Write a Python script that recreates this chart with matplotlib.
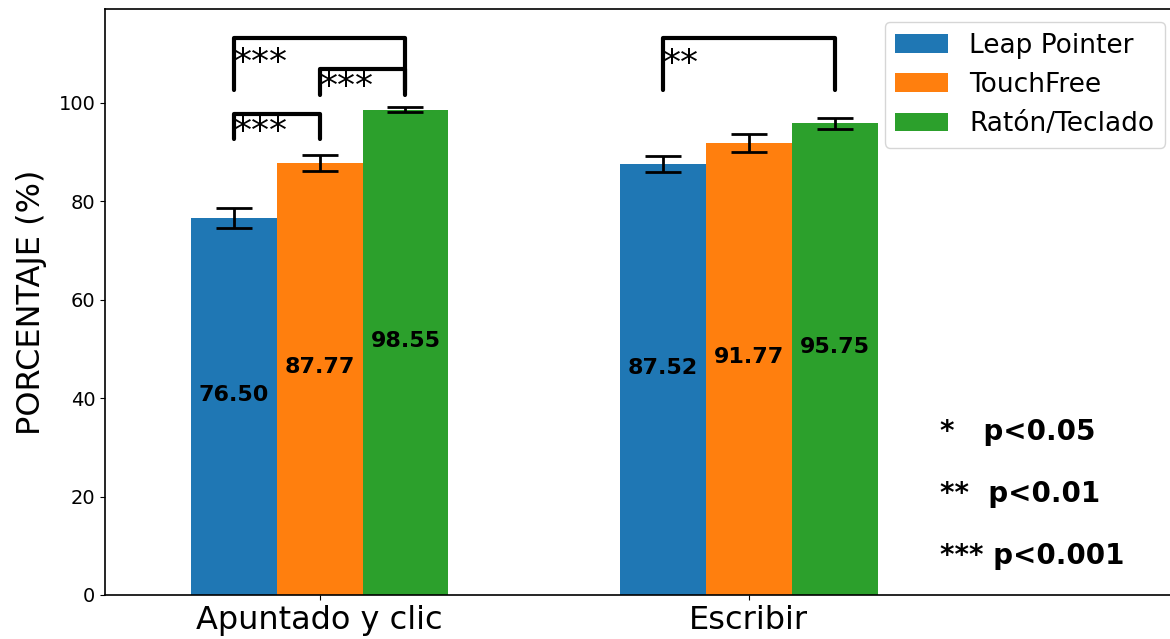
import matplotlib.pyplot as plt
import numpy as np

# ====== data ======
tasks = ["Apuntado y clic", "Escribir"]
devices = ["Leap Pointer", "TouchFree", "Ratón/Teclado"]
leap_vals = [76.50, 87.52]
touch_vals = [87.77, 91.77]
mouse_vals = [98.55, 95.75]
leap_err = [2.0, 1.7]
touch_err = [1.6, 1.8]
mouse_err = [0.5, 1.2]
colors = ["#1f77b4", "#ff7f0e", "#2ca02c"]

# significance brackets: (task index, bar a, bar b, low y, top y, label y, label)
brackets = [
    (0, 0, 1, 92.5, 97.6, 97.4, "***"),
    (0, 1, 2, 101.6, 106.9, 106.7, "***"),
    (0, 0, 2, 102.6, 113.2, 111.4, "***"),
    (1, 0, 2, 102.6, 113.2, 111.2, "**"),
]
legend_notes = ["*   p<0.05", "**  p<0.01", "*** p<0.001"]

# ====== plot ======
fig = plt.figure(figsize=(11.7, 6.39), dpi=100)
ax = fig.add_axes([105 / 1170, 44 / 639, 1073 / 1170, 586 / 639])

x = np.arange(len(tasks))
width = 0.2
series = [leap_vals, touch_vals, mouse_vals]
errors = [leap_err, touch_err, mouse_err]
offsets = [-width, 0, width]

for vals, errs, off, col, name in zip(series, errors, offsets, colors, devices):
    ax.bar(x + off, vals, width, color=col, label=name,
           yerr=errs, capsize=13,
           error_kw=dict(elinewidth=2, capthick=2, ecolor="black"))
    for xi, v in zip(x + off, vals):
        ax.text(xi, v / 2 + 2.4, f"{v:.2f}", ha="center", va="center",
                fontsize=16, fontweight="bold")

for task, a, b, low, top, ty, lab in brackets:
    xa = x[task] + offsets[a]
    xb = x[task] + offsets[b]
    ax.plot([xa, xa, xb, xb], [low, top, top, low], color="black", lw=3,
            solid_capstyle="round", solid_joinstyle="round")
    ax.text(xa, ty, lab, ha="left", va="top", fontsize=26)

for i, note in enumerate(legend_notes):
    ax.text(1.445, 33.1 - i * 12.6, note, ha="left", va="center",
            fontsize=20, fontweight="bold")

ax.set_xlim(-0.5, 2.0)
ax.set_ylim(0, 119)
ax.set_xticks(x)
ax.set_xticklabels(tasks, fontsize=23)
ax.tick_params(axis="y", labelsize=14)
ax.set_ylabel("PORCENTAJE (%)", fontsize=23, labelpad=8)
for sp in ax.spines.values():
    sp.set_linewidth(1.2)
ax.legend(loc="upper right", fontsize=19)

plt.savefig("out.png", dpi=100)
